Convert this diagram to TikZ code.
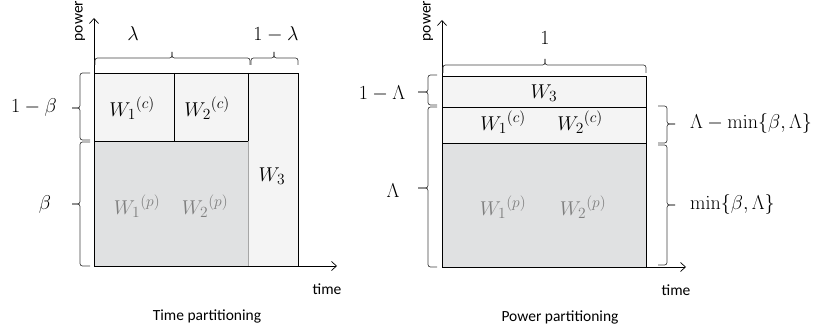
\RequirePackage{fix-cm}
\documentclass[tikz,border=0pt]{standalone}
\usepackage[no-math]{fontspec}
\setmainfont{Carlito}
\usetikzlibrary{arrows.meta}
\DeclareMathSizes{20}{20}{15.5}{11}
\definecolor{lightcell}{HTML}{F4F4F4}
\definecolor{graycell}{HTML}{E0E1E2}
\definecolor{graytext}{HTML}{7F7F7F}
\definecolor{bracecol}{HTML}{404040}
\tikzset{
  mlab/.style={font=\fontsize{20}{24}\selectfont, inner sep=0pt},
  tlab/.style={font=\fontsize{15.5}{18}\selectfont, inner sep=0pt},
  cellline/.style={draw=black, line width=0.8pt},
  axisline/.style={draw=black, line width=0.7pt, -{Straight Barb[length=5pt,width=9pt]}},
  bracestyle/.style={draw=bracecol, line width=0.7pt, rounded corners=2.5pt},
}
\begin{document}
\begin{tikzpicture}[x=1pt,y=-1pt]
\useasboundingbox (0,0) rectangle (816,336);

% ---------------- Left chart: time partitioning ----------------
\fill[lightcell] (94,73) rectangle (298,266);
\fill[graycell] (94,141) rectangle (248,266);
\draw[cellline] (94,73) -- (298,73) -- (298,266);
\draw[cellline] (94,141) -- (248,141);
\draw[cellline] (174,73) -- (174,141);
\draw[cellline] (248,73) -- (248,141);
\draw[draw=black!35, line width=0.5pt] (248.5,141) -- (248.5,266);

\coordinate (LO) at (94,266);
\coordinate (LY) at (94,18);
\coordinate (LX) at (337,266);
\draw[axisline] (LO) -- (LY);
\draw[axisline] (LO) -- (LX);

\node[tlab, rotate=90] (lpower) at (80,21) {power};
\node[tlab] (ltime) at (327,289) {time};
\node[tlab] (lcap) at (207,316) {Time partitioning};

\node[mlab] (lw1c) at (132,108) {${W_1}^{(c)}$};
\node[mlab] (lw2c) at (207,108) {${W_2}^{(c)}$};
\node[mlab] (lw3) at (272,176) {$W_3$};
\node[mlab, text=graytext] (lw1p) at (137,206) {${W_1}^{(p)}$};
\node[mlab, text=graytext] (lw2p) at (205,206) {${W_2}^{(p)}$};

% top braces
\draw[bracestyle] (95,65) -- (95,58) -- (172,58) -- (172,52);
\draw[bracestyle] (172,52) -- (172,58) -- (250,58) -- (250,65);
\draw[bracestyle] (251,65) -- (251,58) -- (274,58) -- (274,52);
\draw[bracestyle] (274,52) -- (274,58) -- (298,58) -- (298,65);
\node[mlab] (llam) at (133,34) {$\lambda$};
\node[mlab] (l1lam) at (276,34) {$1-\lambda$};

% left braces
\draw[bracestyle] (90,73) -- (80,73) -- (80,108) -- (72,108);
\draw[bracestyle] (72,108) -- (80,108) -- (80,140) -- (90,140);
\draw[bracestyle] (90,142) -- (80,142) -- (80,204) -- (72,204);
\draw[bracestyle] (72,204) -- (80,204) -- (80,266) -- (90,266);
\node[mlab] (l1b) at (34,108) {$1-\beta$};
\node[mlab] (lb) at (45,205) {$\beta$};

% ---------------- Right chart: power partitioning ----------------
\fill[lightcell] (442,76) rectangle (646,143);
\fill[graycell] (442,143) rectangle (646,267);
\draw[cellline] (442,76) -- (646,76) -- (646,267);
\draw[cellline] (442,107) -- (646,107);
\draw[cellline] (442,143) -- (646,143);

\coordinate (RO) at (442,267);
\coordinate (RY) at (442,20);
\coordinate (RX) at (686,267);
\draw[axisline] (RO) -- (RY);
\draw[axisline] (RO) -- (RX);

\node[tlab, rotate=90] (rpower) at (428,21) {power};
\node[tlab] (rtime) at (676,290) {time};
\node[tlab] (rcap) at (560,317) {Power partitioning};

\node[mlab] (rw3) at (544,93) {$W_3$};
\node[mlab] (rw1c) at (503,122) {${W_1}^{(c)}$};
\node[mlab] (rw2c) at (580,122) {${W_2}^{(c)}$};
\node[mlab, text=graytext] (rw1p) at (503,207) {${W_1}^{(p)}$};
\node[mlab, text=graytext] (rw2p) at (583,207) {${W_2}^{(p)}$};

% top brace
\draw[bracestyle] (443,73) -- (443,65) -- (545,65) -- (545,59);
\draw[bracestyle] (545,59) -- (545,65) -- (646,65) -- (646,73);
\node[mlab] (rone) at (545,38) {$1$};

% left braces
\draw[bracestyle] (437,75) -- (428,75) -- (428,92) -- (418,92);
\draw[bracestyle] (418,92) -- (428,92) -- (428,105) -- (437,105);
\draw[bracestyle] (437,107) -- (428,107) -- (428,188) -- (418,188);
\draw[bracestyle] (418,188) -- (428,188) -- (428,267) -- (437,267);
\node[mlab] (r1L) at (382,94) {$1-\Lambda$};
\node[mlab] (rL) at (393,191) {$\Lambda$};

% right braces
\draw[bracestyle] (658,106) -- (667,106) -- (667,124) -- (675,124);
\draw[bracestyle] (675,124) -- (667,124) -- (667,143) -- (658,143);
\draw[bracestyle] (658,145) -- (667,145) -- (667,205) -- (675,205);
\draw[bracestyle] (675,205) -- (667,205) -- (667,265) -- (658,265);
\node[mlab, anchor=west] (rLm) at (690,124) {$\Lambda-\min\{\beta,\Lambda\}$};
\node[mlab, anchor=west] (rm) at (690,205) {$\min\{\beta,\Lambda\}$};
\end{tikzpicture}
\end{document}
